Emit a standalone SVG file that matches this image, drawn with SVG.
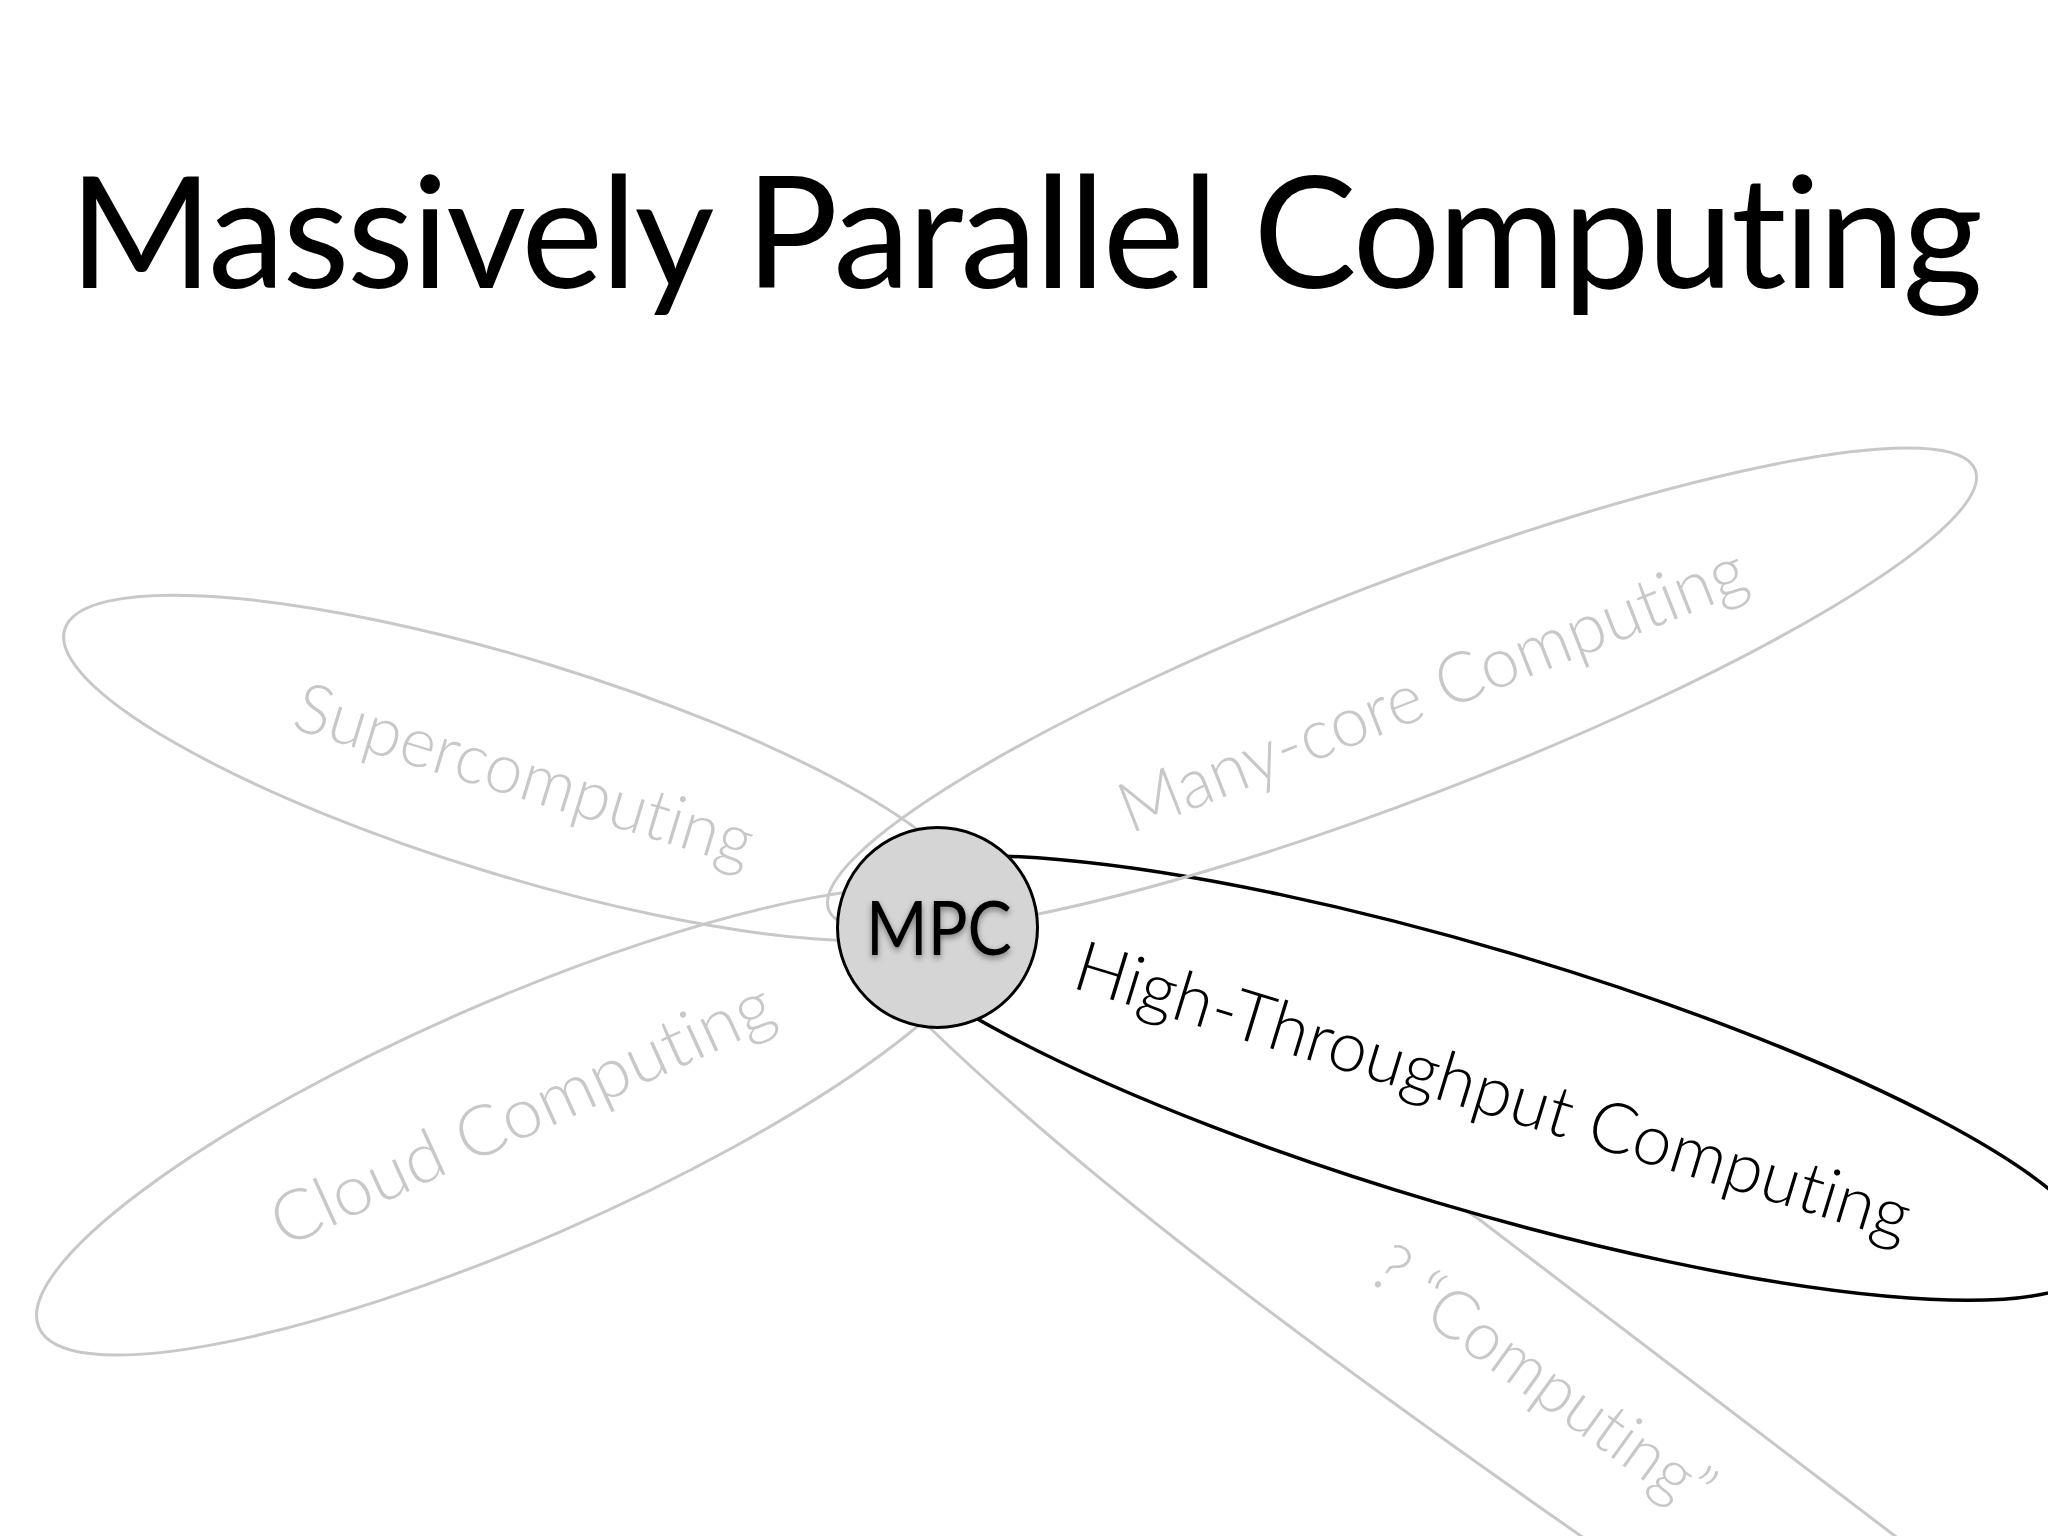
<svg xmlns="http://www.w3.org/2000/svg" width="2048" height="1536" viewBox="0 0 2048 1536">
  <defs>
    <style>
      text { font-variant-ligatures: none; font-feature-settings: "liga" 0, "clig" 0; }
      .petal { fill: none; stroke: #c8c8c8; stroke-width: 3; }
      .petal-active { fill: #ffffff; stroke: #000000; stroke-width: 3.5; }
      .label { font-family: Lato, "Open Sans", "Liberation Sans", sans-serif; font-weight: 300; font-size: 70px; fill: #c8c8c8; }
      .label-active { fill: #000000; }
      .title { font-family: Lato, "Open Sans", "Liberation Sans", sans-serif; font-weight: 400; font-size: 155px; fill: #000000; }
      .hub-text { font-family: Lato, "Open Sans", "Liberation Sans", sans-serif; font-weight: 400; font-size: 76px; fill: #000000; }
    </style>
    <filter id="textShadow" x="-20%" y="-30%" width="140%" height="160%">
      <feDropShadow dx="0" dy="3" stdDeviation="3" flood-color="#000000" flood-opacity="0.45"/>
    </filter>
  </defs>
  <rect width="2048" height="1536" fill="#ffffff"/>

  <g id="title">
    <text class="title" x="69" y="288" textLength="1914">Massively Parallel Computing</text>
  </g>

  <g id="connectors">
    <path id="petal-unknown" class="petal" d="M 930 1028 C 1110 1202 1376 1393 1581 1536 L 1720 1633 L 2040 1640 L 1895 1536 L 1480 1220 L 1000 900 Z"/>
    <ellipse id="petal-htc" class="petal-active" cx="0" cy="0" rx="648" ry="130" transform="translate(1474 1078) rotate(16.5)"/>
    <ellipse id="petal-manycore" class="petal" cx="0" cy="0" rx="614" ry="108" transform="translate(1402 690) rotate(-21)"/>
    <ellipse id="petal-super" class="petal" cx="0" cy="0" rx="474" ry="108" transform="translate(518 768) rotate(17)"/>
    <ellipse id="petal-cloud" class="petal" cx="0" cy="0" rx="518" ry="120" transform="translate(514 1121) rotate(-23.5)"/>
  </g>

  <g id="node-supercomputing">
    <text class="label" transform="translate(290 728) rotate(17)" textLength="476" lengthAdjust="spacingAndGlyphs">Supercomputing</text>
  </g>
  <g id="node-manycore">
    <text class="label" transform="translate(1130 834) rotate(-21.5)" textLength="668" lengthAdjust="spacingAndGlyphs">Many-core Computing</text>
  </g>
  <g id="node-cloud">
    <text class="label" transform="translate(284 1248) rotate(-24.5)" textLength="544" lengthAdjust="spacingAndGlyphs">Cloud Computing</text>
  </g>
  <g id="node-htc">
    <text class="label label-active" transform="translate(1070 987) rotate(17)" textLength="870" lengthAdjust="spacingAndGlyphs">High-Throughput Computing</text>
  </g>
  <g id="node-unknown">
    <text class="label" style="font-size:68px" transform="translate(1366 1279) rotate(36)" textLength="404" lengthAdjust="spacingAndGlyphs">? “Computing”</text>
  </g>

  <g id="node-mpc">
    <circle cx="937.5" cy="927.5" r="100" fill="#d5d5d5" stroke="#000000" stroke-width="3"/>
    <text class="hub-text" x="939" y="955" text-anchor="middle" textLength="146" lengthAdjust="spacingAndGlyphs" filter="url(#textShadow)">MPC</text>
  </g>
</svg>
